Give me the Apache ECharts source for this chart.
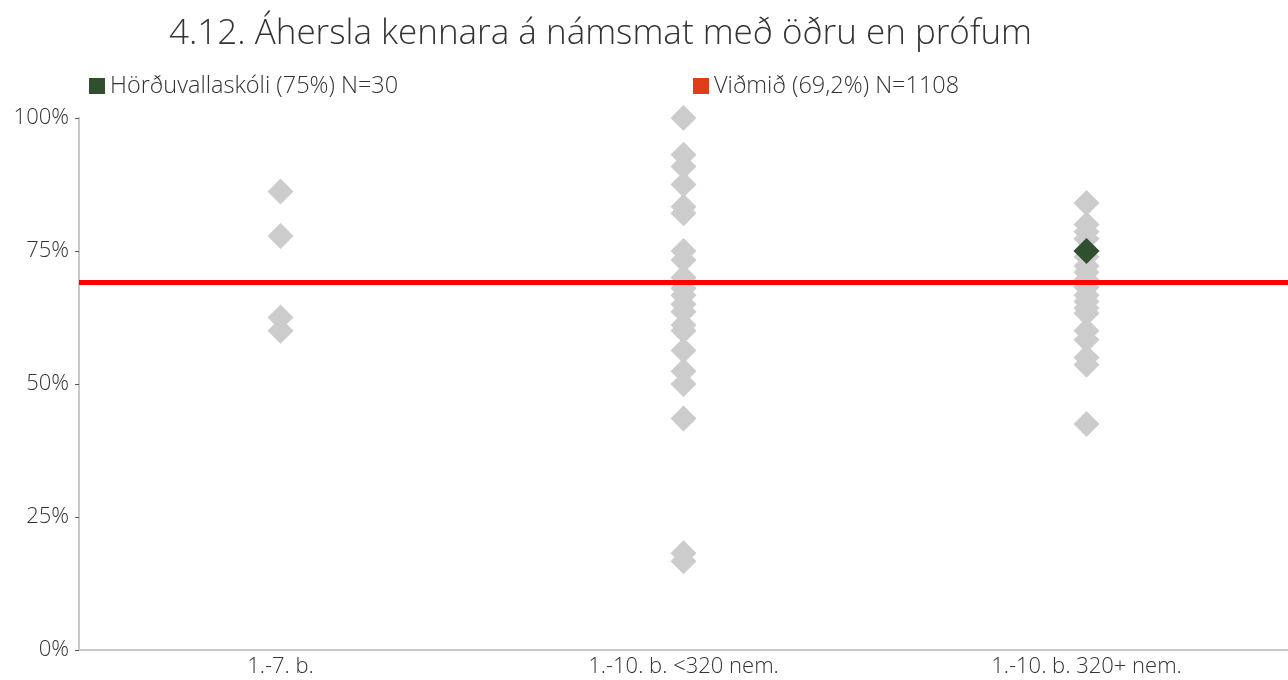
<!DOCTYPE html>
<html>
<head>
<meta charset="utf-8">
<script src="https://cdn.jsdelivr.net/npm/echarts@6/dist/echarts.min.js"></script>
<style>
  html, body { margin: 0; padding: 0; background: #fff; }
  #chart { width: 1288px; height: 680px; }
</style>
</head>
<body>
<div id="chart"></div>
<script>
// School groups along the x axis
const categories = ['1.-7. b.', '1.-10. b. <320 nem.', '1.-10. b. 320+ nem.'];

// Share of each school per group (%)
const group1Values = [86.2, 77.8, 62.5, 60.0];
const group2Values = [100, 93.1, 90.9, 87.5, 83.3, 82.1, 75.0, 73.3, 70.0, 68.0, 66.7, 65.0,
                      63.6, 61.1, 60.0, 56.3, 52.4, 50.0, 43.5, 18.2, 16.7];
const group3Values = [84.0, 80.0, 78.6, 77.3, 75.0, 73.9, 72.2, 71.0, 69.6, 68.2, 66.7, 65.5,
                      64.3, 63.3, 60.0, 58.3, 55.0, 53.6, 42.5];

// Highlighted school and the reference value
const schoolName = 'Hörðuvallaskóli (75%) N=30';
const schoolGroup = 2;
const schoolValue = 75;
const referenceName = 'Viðmið (69,2%) N=1108';
const referenceValue = 69.2;

// Axis ticks
const yTicks = { min: 0, max: 100, interval: 25 };

const otherSchools = [];
[group1Values, group2Values, group3Values].forEach((vals, gi) => {
  vals.forEach(v => otherSchools.push([gi, v]));
});

const textColor = '#333333';
const fontFamily = '"Open Sans", Lato, sans-serif';

const chart = echarts.init(document.getElementById('chart'));
chart.setOption({
  animation: false,
  backgroundColor: '#ffffff',
  title: {
    text: '4.12. Áhersla kennara á námsmat með öðru en prófum',
    left: 164,
    top: 12,
    textStyle: { color: textColor, fontSize: 35, fontWeight: 300, fontFamily }
  },
  legend: [
    {
      data: [schoolName],
      left: 84, top: 69,
      icon: 'rect', itemWidth: 16, itemHeight: 16, itemGap: 0,
      textStyle: { color: textColor, fontSize: 23.5, fontWeight: 300, fontFamily }
    },
    {
      data: [referenceName],
      left: 688, top: 69,
      icon: 'rect', itemWidth: 16, itemHeight: 16, itemGap: 0,
      textStyle: { color: textColor, fontSize: 23.5, fontWeight: 300, fontFamily }
    }
  ],
  grid: { left: 79, right: 0, top: 118, bottom: 30, containLabel: false },
  xAxis: {
    type: 'category',
    data: categories,
    boundaryGap: true,
    axisLine: { lineStyle: { color: '#c8c8c8', width: 2 } },
    axisTick: { show: false },
    axisLabel: { color: textColor, fontSize: 22, fontWeight: 300, fontFamily, margin: 6 },
    splitLine: { show: false }
  },
  yAxis: {
    type: 'value',
    min: yTicks.min, max: yTicks.max, interval: yTicks.interval,
    axisLine: { show: true, lineStyle: { color: '#c8c8c8', width: 2 } },
    axisTick: { show: true, length: 4, lineStyle: { color: '#595959', width: 1 } },
    axisLabel: { color: textColor, fontSize: 22, fontWeight: 300, fontFamily, margin: 10, formatter: '{value}%' },
    splitLine: { show: false }
  },
  series: [
    {
      name: 'others',
      type: 'scatter',
      symbol: 'diamond',
      symbolSize: 26,
      clip: false,
      itemStyle: { color: '#cccccc', opacity: 1 },
      data: otherSchools,
      z: 2
    },
    {
      name: referenceName,
      type: 'scatter',
      data: [],
      itemStyle: { color: '#e03c17', opacity: 1 },
      markLine: {
        silent: true,
        symbol: 'none',
        label: { show: false },
        lineStyle: { color: '#ff0000', width: 5, type: 'solid', opacity: 1 },
        data: [{ yAxis: referenceValue }]
      },
      z: 3
    },
    {
      name: schoolName,
      type: 'scatter',
      symbol: 'diamond',
      symbolSize: 26,
      clip: false,
      itemStyle: { color: '#2f4f2f', opacity: 1 },
      data: [[schoolGroup, schoolValue]],
      z: 5
    }
  ]
});
</script>
</body>
</html>
